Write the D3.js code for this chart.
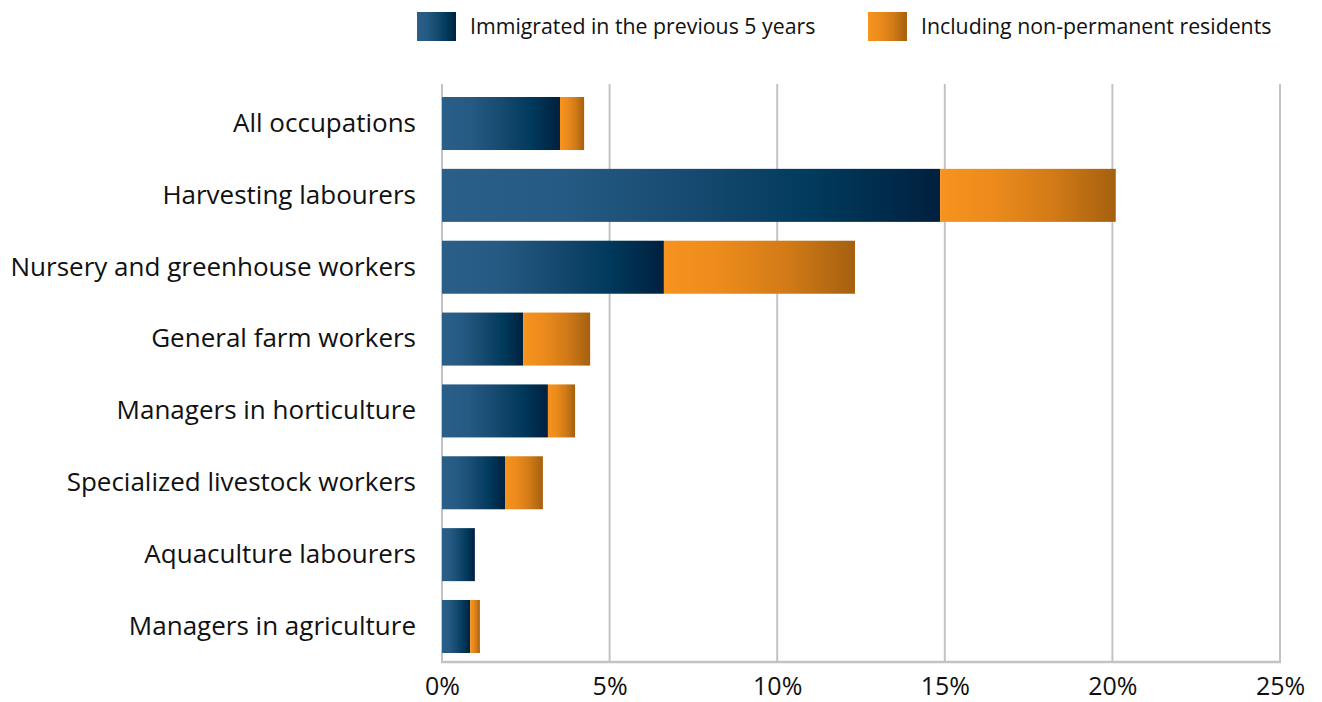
<!DOCTYPE html>
<html><head><meta charset="utf-8">
<script src="https://cdn.jsdelivr.net/npm/d3@7"></script>
<style>body{margin:0;background:#fff}svg{display:block}text{font-family:"Open Sans",sans-serif;fill:#111}</style>
</head><body><svg id="c" width="1322" height="702"></svg>
<script>
const categories = ["All occupations","Harvesting labourers","Nursery and greenhouse workers","General farm workers","Managers in horticulture","Specialized livestock workers","Aquaculture labourers","Managers in agriculture"];
const immigrated = [3.52, 14.86, 6.62, 2.42, 3.16, 1.88, 0.98, 0.84];
const includingNPR = [4.24, 20.1, 12.32, 4.42, 3.97, 3.01, 0.98, 1.13];
const tickValues = [0,5,10,15,20,25];
const seriesNames = ["Immigrated in the previous 5 years","Including non-permanent residents"];

const svg = d3.select("#c");
const m = {l:442, r:1280, t:84, b:662};
const x = d3.scaleLinear().domain([0,25]).range([m.l, m.r]);
const y = d3.scaleBand().domain(categories).range([97, 653]).paddingInner(0.262).paddingOuter(0);

const defs = svg.append("defs");
const gb = defs.append("linearGradient").attr("id","gBlue").attr("x1","0").attr("x2","1").attr("y1","0").attr("y2","0");
[[0,"#2a5f89"],[0.25,"#245a83"],[0.5,"#174a70"],[0.75,"#003a5c"],[1,"#00203f"]].forEach(s=>gb.append("stop").attr("offset",s[0]).attr("stop-color",s[1]));
const go = defs.append("linearGradient").attr("id","gOrange").attr("x1","0").attr("x2","1").attr("y1","0").attr("y2","0");
[[0,"#f7931e"],[0.3,"#ec8b1c"],[0.65,"#d17a17"],[1,"#a5600f"]].forEach(s=>go.append("stop").attr("offset",s[0]).attr("stop-color",s[1]));

// gridlines
svg.append("g").selectAll("line").data(tickValues).join("line")
  .attr("x1",d=>x(d)).attr("x2",d=>x(d)).attr("y1",m.t).attr("y2",m.b)
  .attr("stroke","#c3c3c7").attr("stroke-width",2);
svg.append("line").attr("x1",m.l-1).attr("x2",m.r+1).attr("y1",m.b).attr("y2",m.b).attr("stroke","#c3c3c7").attr("stroke-width",2.5);

// bars
const rows = categories.map((c,i)=>({c, a:immigrated[i], t:includingNPR[i]}));
svg.append("g").selectAll("rect").data(rows).join("rect")
  .attr("x",d=>x(0)).attr("y",d=>y(d.c)).attr("width",d=>x(d.a)-x(0)).attr("height",y.bandwidth())
  .attr("fill","url(#gBlue)");
svg.append("g").selectAll("rect").data(rows.filter(d=>d.t>d.a)).join("rect")
  .attr("x",d=>x(d.a)).attr("y",d=>y(d.c)).attr("width",d=>x(d.t)-x(d.a)).attr("height",y.bandwidth())
  .attr("fill","url(#gOrange)");

// x axis labels
const xa = svg.append("g").attr("transform",`translate(0,${m.b})`).call(d3.axisBottom(x).tickValues(tickValues).tickFormat(d=>d+"%").tickSize(0).tickPadding(15));
xa.select(".domain").remove();
xa.selectAll("text").attr("font-size",25).style("font-family","'Open Sans', sans-serif").attr("fill","#111");

// y axis labels
const ya = svg.append("g").attr("transform",`translate(${m.l},0)`).call(d3.axisLeft(y).tickSize(0).tickPadding(26));
ya.select(".domain").remove();
ya.selectAll("text").attr("font-size",26).style("font-family","'Open Sans', sans-serif").attr("fill","#111");

// legend
const lg = svg.append("g");
const lx = [417, 868];
seriesNames.forEach((s,i)=>{
  lg.append("rect").attr("x",lx[i]).attr("y",12).attr("width",39).attr("height",29).attr("fill",i? "url(#gOrange)":"url(#gBlue)");
  lg.append("text").attr("x",lx[i]+53).attr("y",27).attr("dy","0.35em").attr("font-size",21.3).text(s);
});
</script></body></html>
